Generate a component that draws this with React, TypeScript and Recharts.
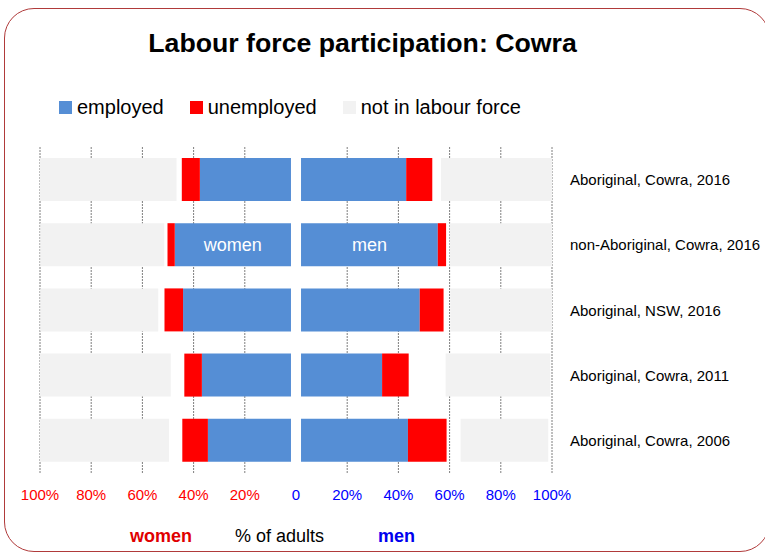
import React from 'react';
import {
  BarChart,
  Bar,
  XAxis,
  YAxis,
  CartesianGrid,
  ReferenceLine,
  LabelList,
} from 'recharts';

// Labour force participation, Cowra -- women to the left, men to the right.
// Values are % of adults.

const categories = [
  'Aboriginal, Cowra, 2016',
  'non-Aboriginal, Cowra, 2016',
  'Aboriginal, NSW, 2016',
  'Aboriginal, Cowra, 2011',
  'Aboriginal, Cowra, 2006',
];

const womenEmployed = [36.3, 46.3, 43.0, 35.5, 33.1];
const womenUnemployed = [7.2, 2.9, 7.4, 7.0, 10.2];
const womenNotStated = [2.1, 1.3, 2.5, 5.4, 5.3];
const womenNotInLF = [54.5, 49.4, 47.0, 52.5, 51.8];

const menEmployed = [41.9, 54.5, 47.3, 32.3, 42.6];
const menUnemployed = [10.4, 3.3, 9.5, 10.6, 15.4];
const menNotStated = [3.5, 1.4, 2.7, 14.7, 5.6];
const menNotInLF = [44.5, 41.0, 40.6, 41.7, 34.9];

const womenTags = ['', 'women', '', '', ''];
const menTags = ['', 'men', '', '', ''];

const tickPercents = [-100, -80, -60, -40, -20, 20, 40, 60, 80, 100];

// white strip between the two halves, in axis units
const CENTRE_GAP = 2;
const HALF = 100 + CENTRE_GAP;
// the tick scale in the source spans the whole half, gap included
const toAxis = (p: number) => (p * HALF) / 100;
const axisTicks = tickPercents.map(toAxis);

const COLORS = {
  employed: '#558ED5',
  unemployed: '#FF0000',
  notInLF: '#F2F2F2',
};

const FONT = '"Liberation Sans", Arial, Helvetica, sans-serif';

const data = categories.map((name, i) => ({
  name,
  wGap: -CENTRE_GAP,
  wEmp: -womenEmployed[i],
  wUnemp: -womenUnemployed[i],
  wNs: -womenNotStated[i],
  wNilf: -womenNotInLF[i],
  mGap: CENTRE_GAP,
  mEmp: menEmployed[i],
  mUnemp: menUnemployed[i],
  mNs: menNotStated[i],
  mNilf: menNotInLF[i],
  wTag: womenTags[i],
  mTag: menTags[i],
}));

const legendItems = [
  { label: 'employed', color: COLORS.employed },
  { label: 'unemployed', color: COLORS.unemployed },
  { label: 'not in labour force', color: COLORS.notInLF },
];

function PercentTick(props: any) {
  const { x, y, payload } = props;
  const v = payload.value as number;
  return (
    <text
      x={x}
      y={y + 21}
      textAnchor="middle"
      dominantBaseline="central"
      fill={v < 0 ? '#FF0000' : '#0000FF'}
      fontSize={15}
      fontFamily={FONT}
    >
      {Math.round((Math.abs(v) * 100) / HALF)}%
    </text>
  );
}

function CategoryTick(props: any) {
  const { x, y, payload } = props;
  return (
    <text
      x={x + 18}
      y={y}
      textAnchor="start"
      dominantBaseline="central"
      fill="#000"
      fontSize={15}
      fontFamily={FONT}
    >
      {payload.value}
    </text>
  );
}

function ZeroLabel(props: any) {
  const vb = props.viewBox || {};
  return (
    <text
      x={vb.x}
      y={vb.y + vb.height + 21}
      textAnchor="middle"
      dominantBaseline="central"
      fill="#0000FF"
      fontSize={15}
      fontFamily={FONT}
    >
      0
    </text>
  );
}

export default function App() {
  return (
    <div
      style={{
        position: 'absolute',
        left: 0,
        top: 0,
        width: 765,
        height: 553,
        overflow: 'hidden',
        background: '#fff',
        fontFamily: FONT,
      }}
    >
      {/* rounded frame */}
      <div
        style={{
          position: 'absolute',
          left: 4,
          top: 8,
          width: 764,
          height: 542,
          border: '1px solid #B03A3A',
          borderRadius: 30,
        }}
      />

      <div
        style={{
          position: 'absolute',
          left: 0,
          width: 725,
          top: 27,
          textAlign: 'center',
          fontSize: 26.7,
          fontWeight: 'bold',
          color: '#000',
          lineHeight: '32px',
        }}
      >
        Labour force participation: Cowra
      </div>

      {/* legend */}
      <div
        style={{
          position: 'absolute',
          left: 59,
          top: 94,
          display: 'flex',
          alignItems: 'center',
          gap: 26,
          fontSize: 20,
          lineHeight: '26px',
          color: '#000',
        }}
      >
        {legendItems.map((it) => (
          <div key={it.label} style={{ display: 'flex', alignItems: 'center' }}>
            <span
              style={{
                display: 'inline-block',
                width: 13,
                height: 13,
                background: it.color,
                marginRight: 5,
              }}
            />
            <span>{it.label}</span>
          </div>
        ))}
      </div>

      <div style={{ position: 'absolute', left: 0, top: 0 }}>
        <BarChart
          width={765}
          height={553}
          data={data}
          layout="vertical"
          stackOffset="sign"
          margin={{ top: 147, right: 13, bottom: 50, left: 40 }}
        >
          <CartesianGrid horizontal={false} stroke="#7F7F7F" strokeDasharray="2 1" />
          <XAxis
            type="number"
            domain={[-HALF, HALF]}
            ticks={axisTicks}
            interval={0}
            allowDataOverflow
            height={30}
            axisLine={false}
            tickLine={false}
            tickSize={0}
            tickMargin={0}
            tick={<PercentTick />}
          />
          <YAxis
            type="category"
            dataKey="name"
            orientation="right"
            width={200}
            axisLine={false}
            tickLine={false}
            tickSize={0}
            tickMargin={0}
            tick={<CategoryTick />}
          />

          <Bar dataKey="wGap" stackId="s" fill="none" legendType="none" barSize={43} isAnimationActive={false} />
          <Bar dataKey="wEmp" name="employed" stackId="s" fill={COLORS.employed} barSize={43} isAnimationActive={false}>
            <LabelList dataKey="wTag" position="center" fill="#FFFFFF" fontSize={18} fontFamily={FONT} />
          </Bar>
          <Bar dataKey="wUnemp" name="unemployed" stackId="s" fill={COLORS.unemployed} barSize={43} isAnimationActive={false} />
          <Bar dataKey="wNs" stackId="s" fill="none" legendType="none" barSize={43} isAnimationActive={false} />
          <Bar dataKey="wNilf" name="not in labour force" stackId="s" fill={COLORS.notInLF} barSize={43} isAnimationActive={false} />

          <Bar dataKey="mGap" stackId="s" fill="none" legendType="none" barSize={43} isAnimationActive={false} />
          <Bar dataKey="mEmp" stackId="s" fill={COLORS.employed} legendType="none" barSize={43} isAnimationActive={false}>
            <LabelList dataKey="mTag" position="center" fill="#FFFFFF" fontSize={18} fontFamily={FONT} />
          </Bar>
          <Bar dataKey="mUnemp" stackId="s" fill={COLORS.unemployed} legendType="none" barSize={43} isAnimationActive={false} />
          <Bar dataKey="mNs" stackId="s" fill="none" legendType="none" barSize={43} isAnimationActive={false} />
          <Bar dataKey="mNilf" stackId="s" fill={COLORS.notInLF} legendType="none" barSize={43} isAnimationActive={false} />

          <ReferenceLine x={0} stroke="none" label={<ZeroLabel />} />
        </BarChart>
      </div>

      {/* axis caption */}
      <div
        style={{
          position: 'absolute',
          top: 524,
          left: 0,
          width: 765,
          height: 24,
          fontSize: 18,
          lineHeight: '24px',
        }}
      >
        <span style={{ position: 'absolute', left: 130, color: '#E00000', fontWeight: 'bold' }}>women</span>
        <span style={{ position: 'absolute', left: 235, color: '#000' }}>% of adults</span>
        <span style={{ position: 'absolute', left: 378, color: '#0000EE', fontWeight: 'bold' }}>men</span>
      </div>
    </div>
  );
}
